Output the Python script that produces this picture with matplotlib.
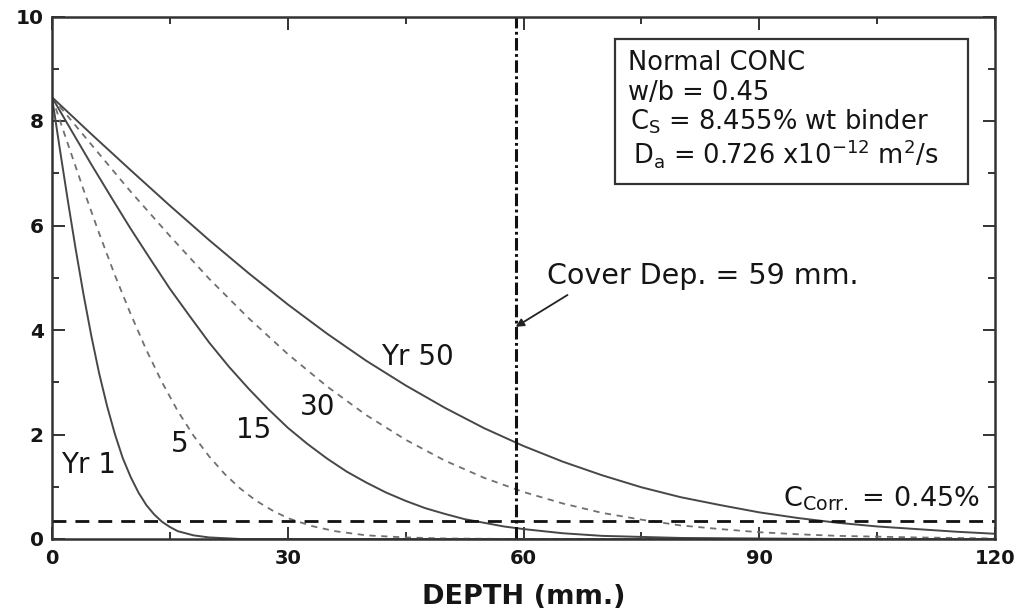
import matplotlib
matplotlib.use("Agg")
import matplotlib.pyplot as plt
from matplotlib.patches import Rectangle

plt.rcParams['font.family'] = ['DejaVu Sans']
plt.rcParams['mathtext.default'] = 'regular'
plt.rcParams['lines.scale_dashes'] = False

# ---- data ----
depth_yr1 = [0, 1, 2, 3, 4, 5, 6, 7, 8, 9, 10, 11, 12, 13, 14, 15, 16, 18, 20, 24, 30, 60, 90, 120]
conc_yr1 = [8.455, 7.46, 6.49, 5.56, 4.69, 3.89, 3.17, 2.55, 2.01, 1.55, 1.19, 0.89, 0.65, 0.47,
            0.33, 0.23, 0.15, 0.07, 0.03, 0.0, 0.0, 0.0, 0.0, 0.0]

depth_yr5 = [0, 2, 4, 6, 8, 10, 12, 14, 16, 18, 20, 22, 24, 26, 28, 30, 33, 36, 40, 45, 50, 60, 90, 120]
conc_yr5 = [8.455, 7.57, 6.69, 5.85, 5.05, 4.31, 3.62, 3.00, 2.45, 1.98, 1.58, 1.24, 0.96, 0.73,
            0.55, 0.40, 0.25, 0.15, 0.07, 0.03, 0.01, 0.0, 0.0, 0.0]

depth_yr15 = [0, 2.5, 5, 7.5, 10, 12.5, 15, 17.5, 20, 22.5, 25, 27.5, 30, 32.5, 35, 37.5, 40,
              42.5, 45, 47.5, 50, 52.5, 55, 57.5, 60, 65, 70, 80, 90, 100, 120]
conc_yr15 = [8.455, 7.81, 7.17, 6.55, 5.94, 5.36, 4.79, 4.27, 3.76, 3.30, 2.88, 2.49, 2.13,
             1.82, 1.54, 1.29, 1.08, 0.89, 0.73, 0.59, 0.48, 0.38, 0.31, 0.24, 0.19,
             0.11, 0.06, 0.02, 0.01, 0.0, 0.0]

depth_yr30 = [0, 5, 10, 15, 20, 25, 30, 35, 40, 45, 50, 55, 60, 65, 70, 75, 80, 85, 90, 95,
              100, 110, 120]
conc_yr30 = [8.455, 7.55, 6.65, 5.80, 4.98, 4.23, 3.54, 2.92, 2.37, 1.90, 1.50, 1.17, 0.90,
             0.68, 0.50, 0.37, 0.26, 0.19, 0.13, 0.09, 0.06, 0.03, 0.01]

depth_yr50 = [0, 5, 10, 15, 20, 25, 30, 35, 40, 45, 50, 55, 60, 65, 70, 75, 80, 85, 90, 95,
              100, 105, 110, 115, 120]
conc_yr50 = [8.455, 7.75, 7.06, 6.38, 5.72, 5.09, 4.49, 3.93, 3.41, 2.94, 2.51, 2.12, 1.78,
             1.48, 1.22, 0.99, 0.80, 0.65, 0.51, 0.40, 0.31, 0.24, 0.19, 0.14, 0.10]

curve_labels = ["Yr 1", "5", "15", "30", "Yr 50"]
label_x = [4.6, 16.2, 25.6, 33.8, 46.5]
label_y = [1.42, 1.82, 2.09, 2.53, 3.48]

c_corr = 0.35
cover_depth = 59
x_ticks = [0, 30, 60, 90, 120]
y_ticks = [0, 2, 4, 6, 8, 10]

box_lines = ["Normal CONC", "w/b = 0.45", "C$_S$ = 8.455% wt binder",
             "D$_a$ = 0.726 x10$^{-12}$ m$^2$/s"]

# ---- figure ----
W, H = 1019, 611
fig = plt.figure(figsize=(W / 100, H / 100), dpi=100)
ax = fig.add_axes([52 / W, 1 - 539 / H, (995 - 52) / W, (539 - 16.5) / H])

solid_kw = dict(color='#474747', lw=1.4)
dash_kw = dict(color='#707070', lw=1.3, linestyle=(0, (4.5, 4)))
ax.plot(depth_yr1, conc_yr1, **solid_kw)
ax.plot(depth_yr5, conc_yr5, **dash_kw)
ax.plot(depth_yr15, conc_yr15, **solid_kw)
ax.plot(depth_yr30, conc_yr30, **dash_kw)
ax.plot(depth_yr50, conc_yr50, **solid_kw)

ax.axhline(c_corr, color='#111111', lw=2.0, linestyle=(0, (10, 6.5)))
ax.axvline(cover_depth, color='#111111', lw=2.2, linestyle=(0, (9, 2.5, 2, 2.5)))

txt_color = '#151515'
for t, x, y in zip(curve_labels, label_x, label_y):
    ax.text(x, y, t, fontsize=20, ha='center', va='center', color=txt_color)

ax.annotate("", xy=(cover_depth, 4.06), xytext=(65.6, 4.67),
            arrowprops=dict(arrowstyle='-|>', color='#222222', lw=1.3,
                            mutation_scale=12, shrinkA=0, shrinkB=0))
ax.text(63.0, 4.88, "Cover Dep. = 59 mm.", fontsize=20.5, ha='left', va='baseline',
        color=txt_color)

ax.text(93.0, 0.62, "C$_{Corr.}$ = 0.45%", fontsize=19.5, ha='left', va='baseline',
        color=txt_color)

# info box
ax.add_patch(Rectangle(((615 - 52) / 943, 1 - (184 - 16.5) / 522.5),
                       (968 - 615) / 943, (184 - 39) / 522.5,
                       transform=ax.transAxes, fill=False, ec='#333333', lw=1.6,
                       zorder=5))
box_x = [628, 628, 630, 633]
box_base = [70, 100, 130, 164]
for t, px, py in zip(box_lines, box_x, box_base):
    ax.text((px - 52) / 943, 1 - (py - 16.5) / 522.5, t, transform=ax.transAxes,
            fontsize=18.5, ha='left', va='baseline', color=txt_color)

ax.set_xlim(0, 120)
ax.set_ylim(0, 10)
ax.set_xticks(x_ticks)
ax.set_xticks(range(0, 121, 15), minor=True)
ax.set_yticks(y_ticks)
ax.set_yticks(range(0, 11), minor=True)
ax.tick_params(which='both', direction='in', top=True, right=True, width=1.4,
               color='#333333')
ax.tick_params(axis='x', which='major', length=9, labelsize=14, pad=7)
ax.tick_params(axis='y', which='major', length=9, labelsize=14.5, pad=6)
ax.tick_params(which='minor', length=5)
for lab in ax.get_xticklabels() + ax.get_yticklabels():
    lab.set_fontweight('bold')
    lab.set_color(txt_color)
for s in ax.spines.values():
    s.set_linewidth(1.8)
    s.set_color('#333333')

ax.set_xlabel("DEPTH (mm.)", fontsize=19.5, fontweight='bold', labelpad=12,
              color=txt_color)

fig.savefig("out.png", dpi=100)
